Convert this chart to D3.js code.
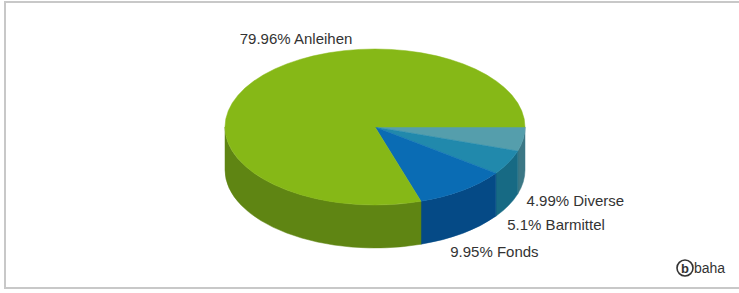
<!DOCTYPE html>
<html>
<head>
<meta charset="utf-8">
<script src="https://cdn.jsdelivr.net/npm/d3@7"></script>
<style>
  html, body { margin: 0; padding: 0; background: #fff; overflow: hidden; }
  text { font-family: "Liberation Sans", Arial, sans-serif; }
</style>
</head>
<body>
<svg id="viz"></svg>
<script>
// data (clockwise from 3 o'clock)
const categories = ['Diverse', 'Barmittel', 'Fonds', 'Anleihen'];
const shares = [4.99, 5.1, 9.95, 79.96];
const shareLabels = ['4.99%', '5.1%', '9.95%', '79.96%'];
const topColors = ['#559eac', '#2189ac', '#0a6cb4', '#86b817'];
const sideColors = ['#3b7785', '#176a84', '#054a86', '#5f8513'];

var width = 739, height = 293;
var cx = 375, cy = 127, rx = 150, ry = 78, depth = 43;

var svg = d3.select('#viz').attr('width', width).attr('height', height);

// frame
svg.append('rect')
   .attr('x', 5).attr('y', 2)
   .attr('width', width + 10).attr('height', 286)
   .attr('fill', '#fff')
   .attr('stroke', '#c8c8c8')
   .attr('stroke-width', 2);

var data = categories.map((c, i) => ({name: c, value: shares[i], label: shareLabels[i], top: topColors[i], side: sideColors[i]}));

var pie = d3.pie().sort(null).value(d => d.value)
            .startAngle(Math.PI / 2).endAngle(Math.PI / 2 + 2 * Math.PI);
var arcs = pie(data);

// screen point on ellipse for d3 angle a
function pt(a, dy) {
    return [cx + rx * Math.sin(a), cy - ry * Math.cos(a) + (dy || 0)];
}

function sidePath(a0, a1) {
    var p0 = pt(a0), p1 = pt(a1), q1 = pt(a1, depth), q0 = pt(a0, depth);
    return `M${p0}A${rx},${ry} 0 0 1 ${p1}L${q1}A${rx},${ry} 0 0 0 ${q0}Z`;
}

function topPath(a0, a1) {
    var p0 = pt(a0), p1 = pt(a1);
    var large = (a1 - a0) > Math.PI ? 1 : 0;
    return `M${cx},${cy}L${p0}A${rx},${ry} 0 ${large} 1 ${p1}Z`;
}

var g = svg.append('g');

// front walls: visible where the surface faces the viewer (angles pi/2 .. 3pi/2 in d3 terms)
arcs.forEach(function(d) {
    var a0 = Math.max(d.startAngle, Math.PI / 2);
    var a1 = Math.min(d.endAngle, 3 * Math.PI / 2);
    if (a1 > a0) {
        g.append('path')
         .attr('d', sidePath(a0, a1))
         .attr('fill', d.data.side)
         .attr('stroke', d.data.side)
         .attr('stroke-width', 0.5);
    }
});

// tops
g.selectAll('path.top')
 .data(arcs)
 .enter()
 .append('path')
 .attr('class', 'top')
 .attr('d', d => topPath(d.startAngle, d.endAngle))
 .attr('fill', d => d.data.top)
 .attr('stroke', d => d.data.top)
 .attr('stroke-width', 0.5);

// labels
arcs.forEach(function(d) {
    var mid = (d.startAngle + d.endAngle) / 2;
    var s = -Math.cos(mid);   // vertical direction on screen
    var x, y;
    if (s > 0) {
        var p = pt(mid, depth);
        x = p[0] + 4 - 25 * s * s;
        y = p[1] + 24;
    } else {
        var p = pt(mid);
        x = p[0] - 14;
        y = p[1] - 37;
    }
    svg.append('text')
       .attr('x', x).attr('y', y)
       .attr('font-size', 15)
       .attr('fill', '#333')
       .text(d.data.label + ' ' + d.data.name);
});

// logo
var logo = svg.append('g').attr('transform', 'translate(685,268)');
logo.append('circle').attr('r', 8).attr('fill', 'none').attr('stroke', '#333').attr('stroke-width', 1.6);
logo.append('text').attr('y', 4.5).attr('text-anchor', 'middle')
    .attr('font-size', 13).attr('font-weight', 'bold').attr('fill', '#333').text('b');
logo.append('text').attr('x', 9).attr('y', 5)
    .attr('font-size', 14).attr('fill', '#333').text('baha');
</script>
</body>
</html>
